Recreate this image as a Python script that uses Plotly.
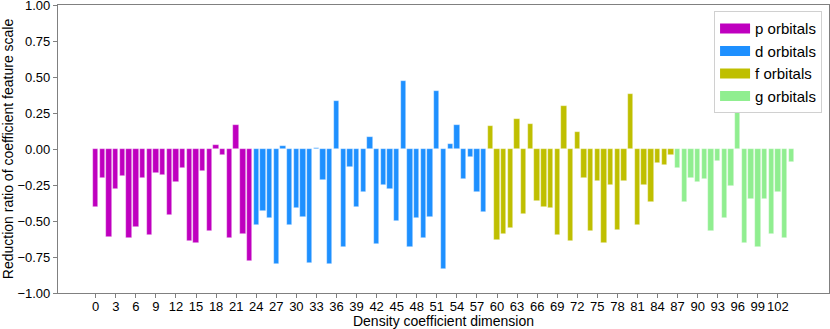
import plotly.graph_objects as go

# reduction ratio per density coefficient, grouped by orbital type
p_vals = [-0.40, -0.20, -0.61, -0.28, -0.19, -0.62, -0.54, -0.20, -0.60, -0.17,
          -0.18, -0.46, -0.23, -0.13, -0.64, -0.65, -0.15, -0.57, 0.025, -0.04,
          -0.62, 0.17, -0.59, -0.78]
d_vals = [-0.53, -0.43, -0.48, -0.80, 0.02, -0.53, -0.41, -0.47, -0.79, 0.005,
          -0.215, -0.80, 0.33, -0.68, -0.125, -0.40, -0.30, 0.08, -0.66, -0.25,
          -0.275, -0.50, 0.47, -0.68, -0.48, -0.62, -0.47, 0.405, -0.83, 0.037,
          0.167, -0.21, -0.056, -0.30, -0.44]
f_vals = [0.157, -0.63, -0.59, -0.55, 0.21, -0.45, 0.176, -0.36, -0.40, -0.41,
          -0.60, 0.30, -0.64, 0.12, -0.20, -0.57, -0.22, -0.65, -0.25, -0.56,
          -0.22, 0.38, -0.525, -0.25, -0.37, -0.10, -0.11, -0.04]
g_vals = [-0.13, -0.37, -0.20, -0.23, -0.21, -0.57, -0.08, -0.48, -0.26, 0.27,
          -0.65, -0.35, -0.68, -0.35, -0.59, -0.30, -0.62, -0.09]

groups = [("p orbitals", p_vals, "#bf00bf"),
          ("d orbitals", d_vals, "#1e90ff"),
          ("f orbitals", f_vals, "#bfbf00"),
          ("g orbitals", g_vals, "#90ee90")]

fig = go.Figure()
start = 0
for name, vals, col in groups:
    xs = list(range(start, start + len(vals)))
    fig.add_trace(go.Bar(x=xs, y=vals, name=name, width=0.8, showlegend=False,
                         marker=dict(color=col, line=dict(color="rgba(255,255,255,0.6)", width=0.6))))
    # legend entry drawn as a thick line so it looks like a wide patch
    fig.add_trace(go.Scatter(x=[None], y=[None], mode="lines", name=name,
                             line=dict(color=col, width=10)))
    start += len(vals)

n = start
fig.update_layout(
    width=830, height=329,
    margin=dict(l=58, r=1, t=5, b=36),
    plot_bgcolor="white", paper_bgcolor="white",
    font=dict(family="Liberation Sans, Arial", size=13, color="black"),
    bargap=0,
    legend=dict(x=0.991, y=0.978, xanchor="right", yanchor="top",
                bgcolor="white", bordercolor="#d0d0d0", borderwidth=1,
                font=dict(size=15), tracegroupgap=0),
)
fig.update_xaxes(range=[-0.4 - 0.05 * (n - 0.2), n - 0.6 + 0.05 * (n - 0.2)],
                 tickmode="array", tickvals=list(range(0, n, 3)), tickangle=0,
                 ticks="outside", ticklen=4, tickcolor="gray", ticklabelstandoff=-3,
                 showline=True, linecolor="gray", linewidth=1.2, mirror=True,
                 showgrid=False, zeroline=False, automargin=False,
                 title=dict(text="Density coefficient dimension", standoff=4, font=dict(size=14)))
fig.update_yaxes(range=[-1, 1], tickmode="array",
                 tickvals=[-1, -0.75, -0.5, -0.25, 0, 0.25, 0.5, 0.75, 1],
                 tickformat=".2f", ticks="outside", ticklen=4, tickcolor="gray",
                 ticklabeloverflow="allow",
                 showline=True, linecolor="gray", linewidth=1.2, mirror=True,
                 showgrid=False, zeroline=False, automargin=False,
                 title=dict(text="Reduction ratio of coefficient feature scale", standoff=2, font=dict(size=14)))

# page body has a default 8px margin; drop it so the figure fills the window
fig.write_html("out.html", config={"displayModeBar": False},
               post_script="document.body.style.margin='0';")
